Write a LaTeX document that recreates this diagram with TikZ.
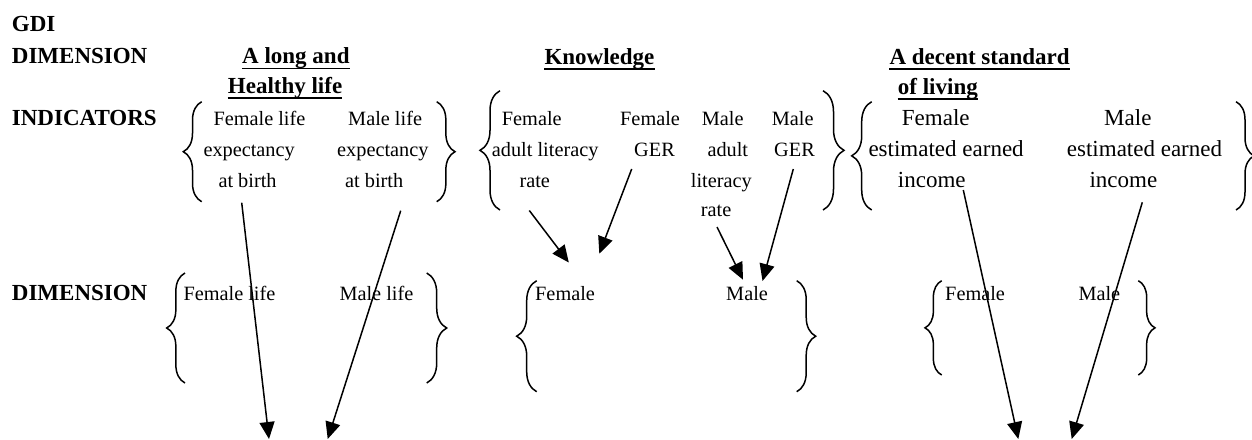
\documentclass[tikz,border=0pt]{standalone}
\usepackage{fontspec}
\setmainfont{Liberation Serif}
\usetikzlibrary{arrows.meta,decorations.pathreplacing}
\begin{document}
\begin{tikzpicture}[x=1pt,y=-1pt,
  lbl/.style={font=\bfseries\fontsize{23}{27}\selectfont, anchor=base west, inner sep=0pt},
  txt/.style={font=\fontsize{20.3}{24}\selectfont, anchor=base west, inner sep=0pt},
  bigtxt/.style={font=\fontsize{23}{27}\selectfont, anchor=base west, inner sep=0pt},
  uline/.style={line width=1.9pt},
  brc/.style={line width=1.5pt, decorate, decoration={brace, amplitude=#1}},
  conn/.style={line width=1.5pt, -{Triangle[length=17pt,width=15pt]}}]
\useasboundingbox (0,0) rectangle (1252,439);

% row labels
\node[lbl] (gdi)  at (11.7,31.7) {GDI};
\node[lbl] (dim1) at (11.7,63.3) {DIMENSION};
\node[lbl] (ind)  at (11.7,125) {INDICATORS};
\node[lbl] (dim2) at (11.7,300.7) {DIMENSION};

% dimension titles
\node[lbl] (t1a) at (242,63.5) {A long and};
\node[lbl] (t1b) at (227.7,93.3) {Healthy life};
\node[lbl] (t2)  at (544.3,64) {Knowledge};
\node[lbl] (t3a) at (889.3,64) {A decent standard};
\node[lbl] (t3b) at (897.7,94) {of living};
\foreach \n in {t1a,t1b,t2,t3a,t3b}
  \draw[uline] ([yshift=-5pt]\n.base west) -- ([yshift=-5pt]\n.base east);

% life indicators
\node[txt] (lf1) at (213.3,125) {Female life};
\node[txt] (lf2) at (203.3,156) {expectancy};
\node[txt] (lf3) at (218.3,187) {at birth};
\node[txt] (lm1) at (348,125) {Male life};
\node[txt] (lm2) at (337,156) {expectancy};
\node[txt] (lm3) at (345,187) {at birth};

% knowledge indicators
\node[txt] (kf1) at (501.7,125) {Female};
\node[txt] (kf2) at (491.7,156) {adult literacy};
\node[txt] (kf3) at (519.3,187) {rate};
\node[txt] (kg1) at (620,125) {Female};
\node[txt] (kg2) at (634,156) {GER};
\node[txt] (km1) at (701.7,125) {Male};
\node[txt] (km2) at (707.3,156) {adult};
\node[txt] (km3) at (690.7,187) {literacy};
\node[txt] (km4) at (700.7,216) {rate};
\node[txt] (kn1) at (771.7,125) {Male};
\node[txt] (kn2) at (774,156) {GER};

% living indicators
\node[bigtxt] (if1) at (901.7,125) {Female};
\node[bigtxt] (if2) at (868.3,156) {estimated earned};
\node[bigtxt] (if3) at (897.7,187) {income};
\node[bigtxt] (im1) at (1104,125) {Male};
\node[bigtxt] (im2) at (1066.7,156) {estimated earned};
\node[bigtxt] (im3) at (1089.3,187) {income};

% dimension row
\node[txt] (dlf) at (183.3,300.7) {Female life};
\node[txt] (dlm) at (339.3,300.7) {Male life};
\node[txt] (dkf) at (535,300.7) {Female};
\node[txt] (dkm) at (726,300.7) {Male};
\node[txt] (dif) at (945,300.7) {Female};
\node[txt] (dim) at (1078.3,300.7) {Male};

% braces, indicator row
\draw[brc=18.4] (201.7,201.7) -- (201.7,101.7);
\draw[brc=18.3] (436.7,101.7) -- (436.7,201.7);
\draw[brc=20] (500,210) -- (500,90.7);
\draw[brc=21] (823,90.7) -- (823,210);
\draw[brc=20] (871.7,210) -- (871.7,101.7);
\draw[brc=18] (1236,101.7) -- (1236,210);

% braces, dimension row
\draw[brc=18.3] (185,383) -- (185,273);
\draw[brc=20] (426.7,273) -- (426.7,383);
\draw[brc=20] (536.7,391.7) -- (536.7,280.7);
\draw[brc=19] (796.7,280.7) -- (796.7,391.7);
\draw[brc=16.7] (941.7,375) -- (941.7,280.7);
\draw[brc=16.7] (1138.3,280.7) -- (1138.3,375);

% connector ends
\coordinate (aLFs) at (241.7,202.7);  \coordinate (aLFe) at (269,439);
\coordinate (aLMs) at (400.7,210.7);  \coordinate (aLMe) at (327.7,439);
\coordinate (aK1s) at (529.3,210.5);  \coordinate (aK1e) at (568.8,262.5);
\coordinate (aK2s) at (631.7,169);    \coordinate (aK2e) at (599.3,253.7);
\coordinate (aK3s) at (717,227);      \coordinate (aK3e) at (743,279.7);
\coordinate (aK4s) at (793.3,169);    \coordinate (aK4e) at (762.5,281);
\coordinate (aI1s) at (963.3,190);    \coordinate (aI1e) at (1018.3,439);
\coordinate (aI2s) at (1142.3,202.3); \coordinate (aI2e) at (1071.7,439);

\draw[conn] (aLFs) -- (aLFe);
\draw[conn] (aLMs) -- (aLMe);
\draw[conn] (aK1s) -- (aK1e);
\draw[conn] (aK2s) -- (aK2e);
\draw[conn] (aK3s) -- (aK3e);
\draw[conn] (aK4s) -- (aK4e);
\draw[conn] (aI1s) -- (aI1e);
\draw[conn] (aI2s) -- (aI2e);
\end{tikzpicture}
\end{document}
